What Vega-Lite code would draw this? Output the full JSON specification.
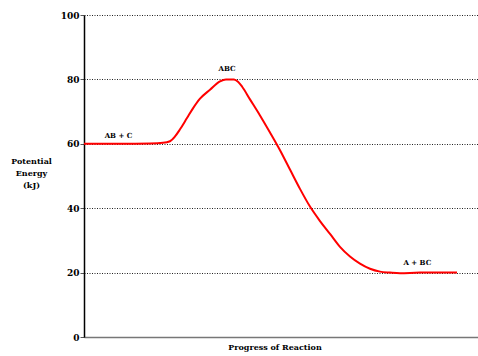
{
  "$schema": "https://vega.github.io/schema/vega-lite/v6.json",
  "width": 394,
  "height": 322,
  "autosize": "none",
  "padding": {"left": 84, "top": 15, "right": 0, "bottom": 19},
  "background": "white",
  "config": {"view": {"stroke": null}},
  "datasets": {
    "curve": [
      {"x": 0, "y": 60}, {"x": 9.14, "y": 60}, {"x": 16.75, "y": 60.1}, {"x": 20.05, "y": 60.3},
      {"x": 21.83, "y": 60.8}, {"x": 23.10, "y": 62.3}, {"x": 24.37, "y": 64.5}, {"x": 26.14, "y": 68},
      {"x": 27.66, "y": 71}, {"x": 29.44, "y": 74}, {"x": 31.98, "y": 76.8}, {"x": 34.52, "y": 79.4},
      {"x": 36.04, "y": 80}, {"x": 38.07, "y": 80}, {"x": 39.09, "y": 79.3}, {"x": 40.10, "y": 77.8},
      {"x": 42.13, "y": 73.8}, {"x": 44.67, "y": 68.8}, {"x": 47.21, "y": 63.5}, {"x": 49.75, "y": 58},
      {"x": 52.28, "y": 52}, {"x": 54.82, "y": 46}, {"x": 57.36, "y": 40.5}, {"x": 59.90, "y": 36},
      {"x": 62.44, "y": 32}, {"x": 64.97, "y": 28}, {"x": 67.51, "y": 25}, {"x": 70.05, "y": 22.8},
      {"x": 72.59, "y": 21.2}, {"x": 75.13, "y": 20.3}, {"x": 77.66, "y": 20}, {"x": 80.20, "y": 19.8},
      {"x": 85.28, "y": 20}, {"x": 94.67, "y": 20}
    ],
    "labels": [
      {"x": 8.76, "y": 62.4, "t": "AB + C"},
      {"x": 36.3, "y": 83.2, "t": "ABC"},
      {"x": 84.6, "y": 23.1, "t": "A + BC"}
    ]
  },
  "layer": [
    {
      "data": {"name": "curve"},
      "mark": {"type": "line", "color": "#ff0000", "strokeWidth": 2, "interpolate": "monotone"},
      "encoding": {
        "x": {
          "field": "x", "type": "quantitative", "scale": {"domain": [0, 100]},
          "axis": {
            "title": "Progress of Reaction", "labels": false, "ticks": false, "grid": false,
            "domainColor": "#777777", "domainWidth": 1.5,
            "titleFont": "DejaVu Serif", "titleFontWeight": "bold", "titleFontSize": 8, "titleColor": "#000000",
            "titleX": 190.5, "titleY": 10.5, "titleBaseline": "middle", "titleAnchor": null
          }
        },
        "y": {
          "field": "y", "type": "quantitative", "scale": {"domain": [0, 100]},
          "axis": {
            "values": [0, 20, 40, 60, 80, 100],
            "title": ["Potential", "Energy", "(kJ)"],
            "titleAngle": 0, "titleAlign": "center", "titleBaseline": "top",
            "titleX": -53, "titleY": 142, "titleLineHeight": 12,
            "titleFont": "DejaVu Serif", "titleFontWeight": "bold", "titleFontSize": 8, "titleColor": "#000000",
            "labelFont": "DejaVu Serif", "labelFontWeight": "bold", "labelFontSize": 9, "labelColor": "#000000",
            "labelPadding": 1, "tickSize": 4, "tickColor": "#555555",
            "domainColor": "#000000", "domainWidth": 1.5,
            "grid": true, "gridColor": "#222222", "gridDash": [1, 1.5], "gridWidth": 1
          }
        }
      }
    },
    {
      "data": {"name": "labels"},
      "mark": {"type": "text", "font": "DejaVu Serif", "fontWeight": "bold", "fontSize": 7, "color": "#000000", "align": "center", "baseline": "middle"},
      "encoding": {
        "x": {"field": "x", "type": "quantitative"},
        "y": {"field": "y", "type": "quantitative"},
        "text": {"field": "t"}
      }
    }
  ]
}
